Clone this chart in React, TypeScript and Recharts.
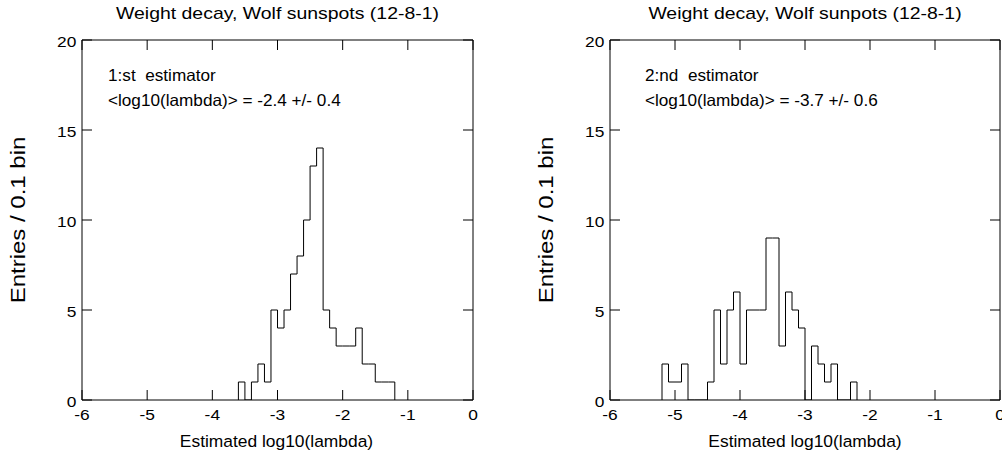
import React from "react";
import { ComposedChart, Line, XAxis, YAxis } from "recharts";

// histogram contents, 0.1 wide bins starting at the given lower edge
const binWidth = 0.1;
const firstLow = -3.6;
const firstCounts = [1, 0, 1, 2, 1, 5, 4, 5, 7, 8, 10, 13, 14, 5, 4, 3, 3, 3, 4, 2, 2, 1, 1, 1];
const secondLow = -5.2;
const secondCounts = [
  2, 1, 1, 2, 0, 0, 0, 1, 5, 2, 5, 6, 2, 5, 5, 5, 9, 9, 3, 6, 5, 4, 0, 3, 2, 1, 2, 0, 0, 1,
];

const xTicks = [-6, -5, -4, -3, -2, -1, 0];
const yTicks = [0, 5, 10, 15, 20];

const titles = ["Weight decay, Wolf sunspots (12-8-1)", "Weight decay, Wolf sunpots (12-8-1)"];
const estimatorLabels = ["1:st  estimator", "2:nd  estimator"];
const meanLabels = ["<log10(lambda)> = -2.4 +/- 0.4", "<log10(lambda)> = -3.7 +/- 0.6"];
const xLabel = "Estimated log10(lambda)";
const yLabel = "Entries / 0.1 bin";

const FONT = "'Liberation Sans', Arial, Helvetica, sans-serif";

function toSteps(low: number, counts: number[]) {
  const pts = [{ x: low, y: 0 }];
  counts.forEach((c, i) => pts.push({ x: +(low + i * binWidth).toFixed(2), y: c }));
  pts.push({ x: +(low + counts.length * binWidth).toFixed(2), y: 0 });
  return pts;
}

function Txt({ x, y, children, size = 16, anchor = "middle", sx = 1, rotate = 0 }: any) {
  return (
    <text
      transform={`translate(${x},${y}) rotate(${rotate}) scale(${sx},1)`}
      textAnchor={anchor}
      fontSize={size}
      fontFamily={FONT}
      fill="#000"
      style={{ whiteSpace: "pre" }}
    >
      {children}
    </text>
  );
}

function BottomTick({ x, y, payload }: any) {
  return (
    <g>
      <line x1={x} y1={y} x2={x} y2={y - 10} stroke="#000" />
      <Txt x={x} y={y + 19.5} size={15.5} sx={1.12}>
        {String(payload.value)}
      </Txt>
    </g>
  );
}

function TopTick({ x, y }: any) {
  return <line x1={x} y1={y} x2={x} y2={y + 10} stroke="#000" />;
}

function LeftTick({ x, y, payload }: any) {
  return (
    <g>
      <line x1={x} y1={y} x2={x + 10} y2={y} stroke="#000" />
      <Txt x={x - 5.7} y={y + 6.5} size={15.5} sx={1.12} anchor="end">
        {String(payload.value)}
      </Txt>
    </g>
  );
}

function RightTick({ x, y }: any) {
  return <line x1={x} y1={y} x2={x - 10} y2={y} stroke="#000" />;
}

function Panel({ low, counts, left, right }: any) {
  const data = toSteps(low, counts);
  const axisLine = { stroke: "#000", strokeWidth: 1 };
  return (
    <ComposedChart
      width={501}
      height={457}
      data={data}
      margin={{ top: 39, right: right - 1, bottom: 56, left: left - 1 }}
    >
      <XAxis
        xAxisId="b"
        dataKey="x"
        type="number"
        domain={[-6, 0]}
        ticks={xTicks}
        interval={0}
        height={1}
        tickSize={0}
        tickMargin={0}
        tickLine={false}
        axisLine={axisLine}
        tick={(p: any) => <BottomTick {...p} />}
        allowDataOverflow
      />
      <XAxis
        xAxisId="t"
        orientation="top"
        dataKey="x"
        type="number"
        domain={[-6, 0]}
        ticks={xTicks}
        interval={0}
        height={1}
        tickSize={0}
        tickMargin={0}
        tickLine={false}
        axisLine={axisLine}
        tick={(p: any) => <TopTick {...p} />}
        allowDataOverflow
      />
      <YAxis
        yAxisId="l"
        type="number"
        domain={[0, 20]}
        ticks={yTicks}
        interval={0}
        width={1}
        tickSize={0}
        tickMargin={0}
        tickLine={false}
        axisLine={axisLine}
        tick={(p: any) => <LeftTick {...p} />}
        allowDataOverflow
      />
      <YAxis
        yAxisId="r"
        orientation="right"
        type="number"
        domain={[0, 20]}
        ticks={yTicks}
        interval={0}
        width={1}
        tickSize={0}
        tickMargin={0}
        tickLine={false}
        axisLine={axisLine}
        tick={(p: any) => <RightTick {...p} />}
        allowDataOverflow
      />
      <Line
        xAxisId="b"
        yAxisId="l"
        type="stepAfter"
        dataKey="y"
        stroke="#000"
        strokeWidth={1}
        dot={false}
        activeDot={false}
        isAnimationActive={false}
      />
      <Line
        xAxisId="t"
        yAxisId="r"
        type="stepAfter"
        dataKey="y"
        stroke="none"
        dot={false}
        activeDot={false}
        isAnimationActive={false}
      />
    </ComposedChart>
  );
}

export default function App() {
  return (
    <div style={{ position: "absolute", left: 0, top: 0, width: 1002, height: 457, background: "#fff" }}>
      <div style={{ position: "absolute", left: 0, top: 0 }}>
        <Panel low={firstLow} counts={firstCounts} left={82} right={28} />
      </div>
      <div style={{ position: "absolute", left: 501, top: 0 }}>
        <Panel low={secondLow} counts={secondCounts} left={109} right={2} />
      </div>
      <svg width={1002} height={457} style={{ position: "absolute", left: 0, top: 0, pointerEvents: "none" }}>
        <Txt x={277.5} y={19} size={16} sx={1.215}>{titles[0]}</Txt>
        <Txt x={805} y={19} size={16} sx={1.215}>{titles[1]}</Txt>

        <Txt x={108} y={81} size={16.5} sx={1.04} anchor="start">{estimatorLabels[0]}</Txt>
        <Txt x={108} y={106} size={16.5} sx={1.04} anchor="start">{meanLabels[0]}</Txt>
        <Txt x={645} y={81} size={16.5} sx={1.04} anchor="start">{estimatorLabels[1]}</Txt>
        <Txt x={645} y={106} size={16.5} sx={1.04} anchor="start">{meanLabels[1]}</Txt>

        <Txt x={276.5} y={446.7} size={16.5} sx={1.055}>{xLabel}</Txt>
        <Txt x={805} y={446.7} size={16.5} sx={1.055}>{xLabel}</Txt>

        <Txt x={25} y={220} size={20} sx={1.2} rotate={-90}>{yLabel}</Txt>
        <Txt x={553} y={220} size={20} sx={1.2} rotate={-90}>{yLabel}</Txt>
      </svg>
    </div>
  );
}
